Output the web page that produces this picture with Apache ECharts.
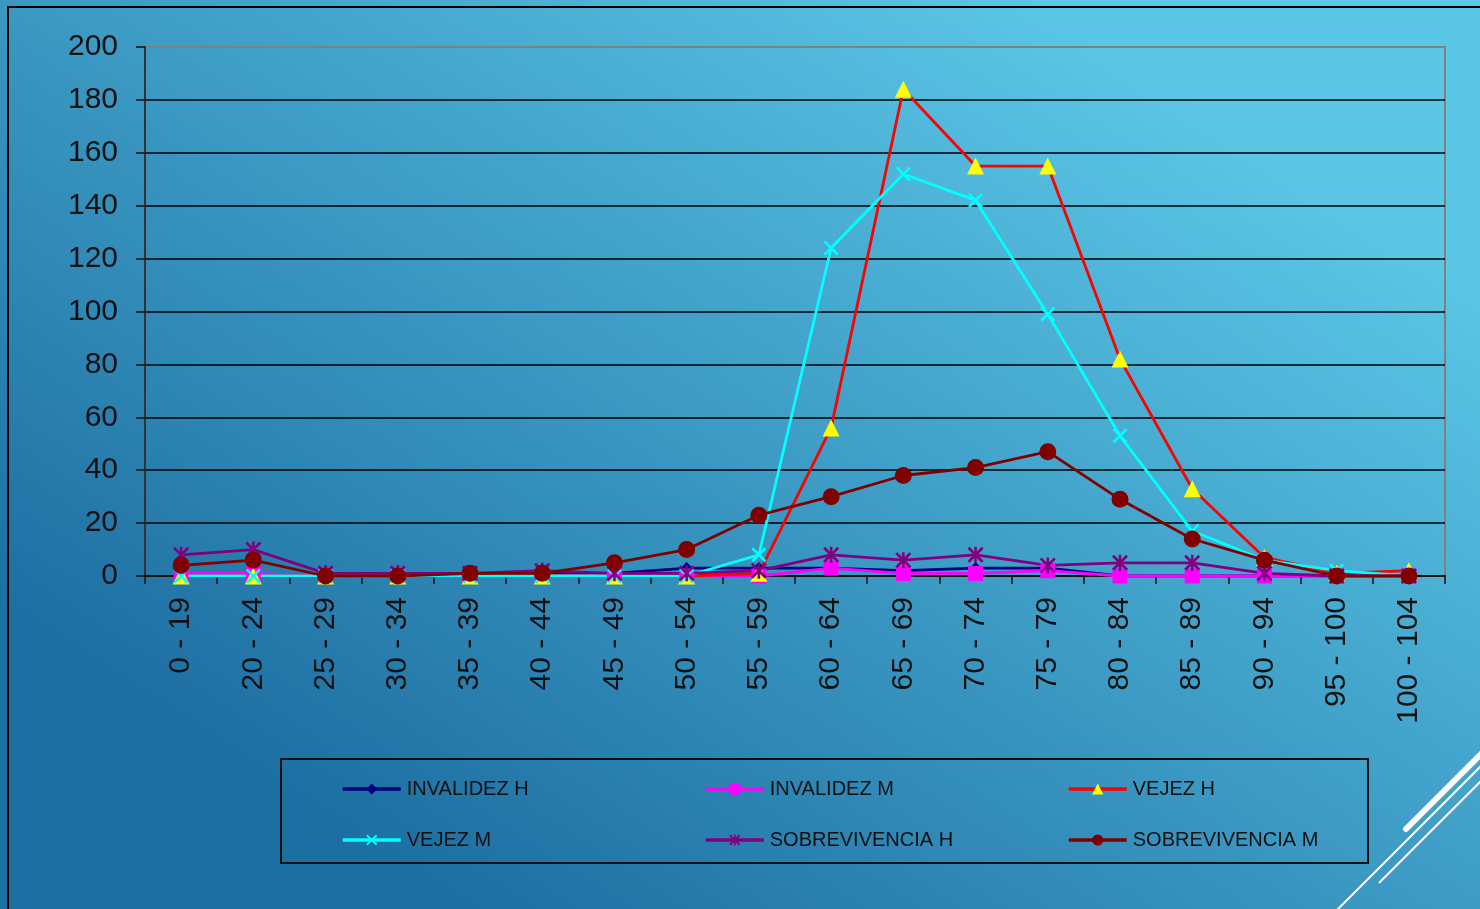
<!DOCTYPE html>
<html>
<head>
<meta charset="utf-8">
<script src="https://cdn.jsdelivr.net/npm/echarts@6/dist/echarts.min.js"></script>
<style>html,body{margin:0;padding:0;}#c{width:1480px;height:909px;}</style>
</head>
<body>
<div id="c"></div>
<script>
const categories = ['0 - 19','20 - 24','25 - 29','30 - 34','35 - 39','40 - 44','45 - 49','50 - 54','55 - 59','60 - 64','65 - 69','70 - 74','75 - 79','80 - 84','85 - 89','90 - 94','95 - 100','100 - 104'];
const invalidezH = [0,0,0,0,0,1,1,3,3,3,2,3,3,0,0,0,0,0];
const invalidezM = [1,1,0,0,0,0,0,0,0,3,1,1,2,0,0,0,0,0];
const vejezH = [0,0,0,0,0,0,0,0,1,56,184,155,155,82,33,7,1,2];
const vejezM = [0,0,0,0,0,0,0,0,8,124,152,142,99,53,17,6,2,0];
const sobrevivenciaH = [8,10,1,1,1,2,1,1,2,8,6,8,4,5,5,1,0,0];
const sobrevivenciaM = [4,6,0,0,1,1,5,10,23,30,38,41,47,29,14,6,0,0];
const yTicks = [0,20,40,60,80,100,120,140,160,180,200];
const seriesNames = ['INVALIDEZ H','INVALIDEZ M','VEJEZ H','VEJEZ M','SOBREVIVENCIA H','SOBREVIVENCIA M'];

const xPath = 'path://M0,1.2 L1.2,0 L5,3.8 L8.8,0 L10,1.2 L6.2,5 L10,8.8 L8.8,10 L5,6.2 L1.2,10 L0,8.8 L3.8,5 Z';
const starPath = 'path://M0,1.2 L1.2,0 L5,3.8 L8.8,0 L10,1.2 L6.2,5 L10,8.8 L8.8,10 L5,6.2 L1.2,10 L0,8.8 L3.8,5 Z M4.2,0 L5.8,0 L5.8,10 L4.2,10 Z';

const chart = echarts.init(document.getElementById('c'));
const defs = [
  {data: invalidezH, color:'#000080', fill:'#000080', symbol:'diamond', size:12},
  {data: invalidezM, color:'#ff00ff', fill:'#ff00ff', symbol:'rect', size:15},
  {data: vejezH, color:'#ff0000', fill:'#ffff00', symbol:'triangle', size:17},
  {data: vejezM, color:'#00ffff', fill:'#00ffff', symbol:xPath, size:15},
  {data: sobrevivenciaH, color:'#800080', fill:'#800080', symbol:starPath, size:16},
  {data: sobrevivenciaM, color:'#800000', fill:'#800000', symbol:'circle', size:17}
];
const series = defs.map((d,i)=>({
  name: seriesNames[i], type:'line', data:d.data,
  symbol:d.symbol, symbolSize:d.size, showAllSymbol:true,
  lineStyle:{color:d.color,width:2.8},
  itemStyle:{color:d.fill,borderWidth:0},
  emphasis:{disabled:true}, animation:false
}));
const legendPos = [[341,779],[704,779],[1067,779],[341,830],[704,830],[1067,830]];
const legends = seriesNames.map((n,i)=>({
  data:[n], left:legendPos[i][0], top:legendPos[i][1], padding:0,
  itemWidth:58, itemHeight:14, itemGap:0,
  lineStyle:{width:3.5},
  textStyle:{fontFamily:'Liberation Sans',fontSize:20,color:'#111',padding:[0,0,0,1]},
  selectedMode:false
}));

chart.setOption({
  animation:false,
  backgroundColor:{type:'linear',x:0.7,y:0,x2:0.3,y2:1,colorStops:[{offset:0,color:'#5bc6e6'},{offset:1,color:'#1d6ea1'}]},
  grid:{left:145,right:35,top:47,bottom:333,show:true,borderColor:'#808080',borderWidth:2,backgroundColor:'transparent'},
  legend:legends,
  xAxis:{type:'category',data:categories,boundaryGap:true,
    axisLine:{lineStyle:{color:'#111',width:2}},
    axisTick:{show:true,length:8,lineStyle:{color:'#111',width:1.5}},
    axisLabel:{rotate:90,margin:21,fontFamily:'Liberation Sans',fontSize:30,color:'#111',interval:0}
  },
  yAxis:{type:'value',min:0,max:200,interval:20,
    axisLine:{show:true,lineStyle:{color:'#333',width:2}},
    axisTick:{show:true,length:9,lineStyle:{color:'#111',width:1.5}},
    axisLabel:{margin:27,fontFamily:'Liberation Sans',fontSize:30,color:'#111',
      formatter:v=>yTicks.includes(v)?String(v):''},
    splitLine:{show:true,showMaxLine:false,lineStyle:{color:'#000',width:1.5}}
  },
  graphic:[
    {type:'polyline',shape:{points:[[8,909],[8,7],[1480,7]]},style:{stroke:'#000',lineWidth:2,fill:null},silent:true},
    {type:'rect',shape:{x:281,y:759,width:1087,height:104},style:{stroke:'#111',lineWidth:2,fill:null},silent:true},
    {type:'line',shape:{x1:1406,y1:829,x2:1482,y2:753},style:{stroke:'#fff',lineWidth:6,lineCap:'round'},silent:true},
    {type:'line',shape:{x1:1337,y1:910,x2:1482,y2:765},style:{stroke:'#fff',lineWidth:2},silent:true},
    {type:'line',shape:{x1:1379,y1:883,x2:1482,y2:780},style:{stroke:'#fff',lineWidth:2},silent:true}
  ],
  series:series
});
</script>
</body>
</html>
